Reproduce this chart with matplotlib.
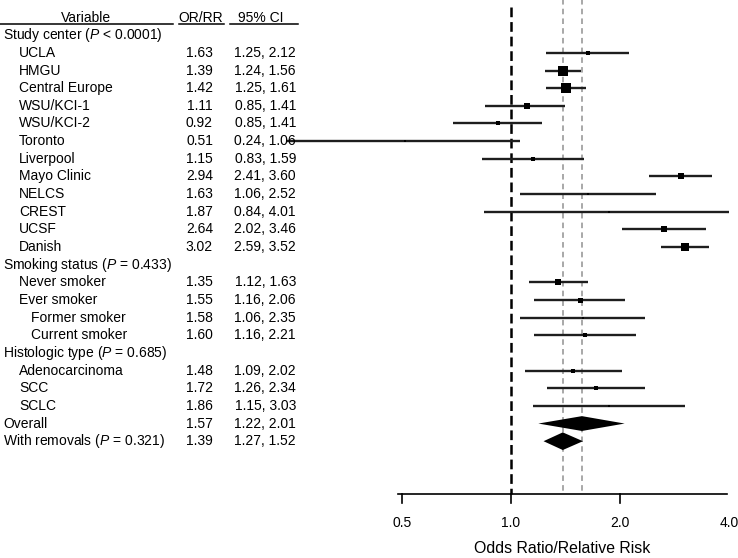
import numpy as np
import matplotlib
matplotlib.use('Agg')
import matplotlib.pyplot as plt
from matplotlib.transforms import blended_transform_factory

plt.rcParams['font.family'] = ['Liberation Sans', 'DejaVu Sans']
plt.rcParams['mathtext.fontset'] = 'custom'
plt.rcParams['mathtext.rm'] = 'Liberation Sans'
plt.rcParams['mathtext.it'] = 'Liberation Sans:italic'
plt.rcParams['lines.scale_dashes'] = False

# table rows (row 0 is the header)
labels = ['Study center ($P$ < 0.0001)', 'UCLA', 'HMGU', 'Central Europe', 'WSU/KCI-1',
          'WSU/KCI-2', 'Toronto', 'Liverpool', 'Mayo Clinic', 'NELCS', 'CREST', 'UCSF',
          'Danish', 'Smoking status ($P$ = 0.433)', 'Never smoker', 'Ever smoker',
          'Former smoker', 'Current smoker', 'Histologic type ($P$ = 0.685)',
          'Adenocarcinoma', 'SCC', 'SCLC', 'Overall', 'With removals ($P$ = 0.321)']
level = [0, 1, 1, 1, 1, 1, 1, 1, 1, 1, 1, 1, 1, 0, 1, 1, 2, 2, 0, 1, 1, 1, 0, 0]
or_txt = ['', '1.63', '1.39', '1.42', '1.11', '0.92', '0.51', '1.15', '2.94', '1.63',
          '1.87', '2.64', '3.02', '', '1.35', '1.55', '1.58', '1.60', '', '1.48', '1.72',
          '1.86', '1.57', '1.39']
ci_txt = ['', '1.25, 2.12', '1.24, 1.56', '1.25, 1.61', '0.85, 1.41', '0.85, 1.41',
          '0.24, 1.06', '0.83, 1.59', '2.41, 3.60', '1.06, 2.52', '0.84, 4.01',
          '2.02, 3.46', '2.59, 3.52', '', '1.12, 1.63', '1.16, 2.06', '1.06, 2.35',
          '1.16, 2.21', '', '1.09, 2.02', '1.26, 2.34', '1.15, 3.03', '1.22, 2.01',
          '1.27, 1.52']

# values as drawn in the plot
est = [np.nan, 1.63, 1.39, 1.42, 1.11, 0.92, 0.51, 1.15, 2.94, 1.63, 1.87, 2.64, 3.02,
       np.nan, 1.35, 1.55, 1.58, 1.60, np.nan, 1.48, 1.72, 1.86, 1.57, 1.39]
lo = [np.nan, 1.25, 1.24, 1.25, 0.85, 0.69, 0.24, 0.83, 2.41, 1.06, 0.84, 2.02, 2.59,
      np.nan, 1.12, 1.16, 1.06, 1.16, np.nan, 1.09, 1.26, 1.15, 1.19, 1.23]
hi = [np.nan, 2.12, 1.56, 1.61, 1.41, 1.22, 1.06, 1.59, 3.60, 2.52, 4.01, 3.46, 3.52,
      np.nan, 1.63, 2.06, 2.35, 2.21, np.nan, 2.02, 2.34, 3.03, 2.06, 1.58]
weight = [0, 4, 9, 9, 5, 4, 2, 4, 6, 2.5, 2, 5, 7.5, 0, 6, 4.5, 2.5, 4, 0, 4, 4, 2, 0, 0]
summary = [22, 23]
xticks = [0.5, 1.0, 2.0, 4.0]

W, H = 738, 558
fig = plt.figure(figsize=(W / 100, H / 100), dpi=100)
ax = fig.add_axes([0, 0, 1, 1])
ax.set_xscale('log', base=2)
ax.set_xlim(2 ** (-511 / 109), 2 ** ((W - 511) / 109))
ax.set_ylim((H - 17.6) / 17.65, -17.6 / 17.65)
ax.axis('off')

tr = blended_transform_factory(fig.transFigure, ax.transData)
fs = 10

# header
ax.text(86 / W, 0, 'Variable', transform=tr, ha='center', va='center', fontsize=fs)
ax.text(201 / W, 0, 'OR/RR', transform=tr, ha='center', va='center', fontsize=fs)
ax.text(261 / W, 0, '95% CI', transform=tr, ha='center', va='center', fontsize=fs)
for a, b in [(0, 173), (179, 224), (230, 298)]:
    ax.plot([a / W, b / W], [0.38, 0.38], transform=tr, color='black', lw=1.1)

indent_px = [3, 19, 31]
for i, lab in enumerate(labels):
    r = i + 1
    ax.text(indent_px[level[i]] / W, r, lab, transform=tr, ha='left', va='center', fontsize=fs)
    ax.text(213 / W, r, or_txt[i], transform=tr, ha='right', va='center', fontsize=fs)
    ax.text(296 / W, r, ci_txt[i], transform=tr, ha='right', va='center', fontsize=fs)

# reference lines
ax.plot([1, 1], [-0.6, 27], color='black', lw=1.8, linestyle=(0, (7, 3.5)), zorder=1)
for i in summary:
    ax.plot([est[i], est[i]], [-1.2, 27], color='#9a9a9a', lw=1.2,
            linestyle=(0, (4, 3)), zorder=1)

# study estimates
for i in range(len(labels)):
    r = i + 1
    if np.isnan(est[i]) or i in summary:
        continue
    ax.plot([lo[i], hi[i]], [r, r], color='#1e1e1e', lw=1.7, solid_capstyle='butt', zorder=2)
    ax.plot(est[i], r, marker='s', color='black', markersize=weight[i] * 0.8,
            markeredgewidth=0, zorder=3)

# summary diamonds
half_h = [0.42, 0.5]
for k, i in enumerate(summary):
    r = i + 1
    ax.fill([lo[i], est[i], hi[i], est[i]], [r, r - half_h[k], r, r + half_h[k]],
            color='black', lw=0, zorder=3)

# x axis
ax.plot([2 ** (-113 / 109), 2 ** (216 / 109)], [27, 27], color='black', lw=1.2)
for t in xticks[:-1]:
    ax.plot([t, t], [27, 27.5], color='black', lw=1.2)
for t in xticks:
    ax.text(t, 28.62, '%.1f' % t, ha='center', va='center', fontsize=fs)
ax.text(2 ** (51.5 / 109), 30.1, 'Odds Ratio/Relative Risk', ha='center', va='center',
        fontsize=11.4)

fig.savefig('out.png', dpi=100)
